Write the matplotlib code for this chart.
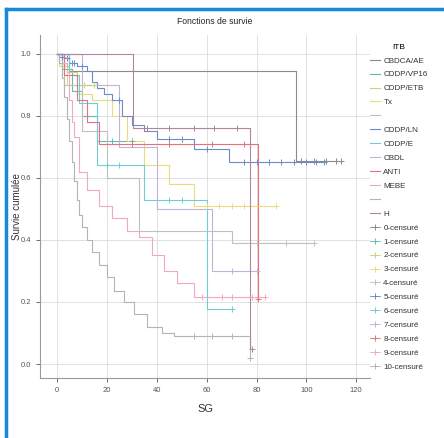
import numpy as np
import matplotlib
matplotlib.use("Agg")
import matplotlib.pyplot as plt
from matplotlib.lines import Line2D

plt.rcParams["font.family"] = ["Liberation Sans", "DejaVu Sans"]

# Treatment groups (legend order)
groups = ["CBDCA/AE", "CDDP/VP16", "CDDP/ETB", "Tx", "", "CDDP/LN",
          "CDDP/E", "CBDL", "ANTI", "MEBE", "", "H"]
colors = ["#8a8a8a", "#5fbcb2", "#cbd66e", "#ecdb7a", "#c0c0c0", "#6d8bcc",
          "#6fcdd8", "#c2b2d4", "#e8707c", "#f0aabd", "#b4b4b4", "#b0869c"]

# Event times (months) and survival after each event, per group
ev_t = [
    [5, 96],
    [2, 6, 10, 16],
    [2, 5, 8],
    [1, 4, 8, 14, 22, 28, 35, 45, 55],
    [3, 10, 20, 33, 70],
    [1, 3, 5, 8, 12, 14, 16, 19, 22, 26, 30, 35, 40, 55, 69],
    [5, 9, 16, 35, 60],
    [10, 25, 40, 62],
    [3, 8, 12, 17, 80.5],
    [2, 4, 5, 6, 7, 9, 12, 17, 22, 28, 33, 38, 43, 48, 55],
    [1, 2, 3, 4, 5, 6, 7, 8, 9, 10, 12, 14, 17, 20, 23, 27, 31, 36, 42, 47, 77.5],
    [30.5, 77.5],
]
ev_s = [
    [0.945, 0.655],
    [0.95, 0.88, 0.80, 0.72],
    [0.96, 0.94, 0.90],
    [0.96, 0.90, 0.87, 0.85, 0.80, 0.72, 0.64, 0.58, 0.51],
    [0.90, 0.75, 0.60, 0.43, 0.39],
    [0.99, 0.985, 0.97, 0.96, 0.945, 0.91, 0.89, 0.87, 0.85, 0.80, 0.77, 0.75,
     0.726, 0.694, 0.652],
    [0.93, 0.84, 0.64, 0.53, 0.177],
    [0.90, 0.70, 0.50, 0.30],
    [0.93, 0.85, 0.78, 0.71, 0.21],
    [0.97, 0.94, 0.85, 0.78, 0.73, 0.62, 0.56, 0.51, 0.47, 0.43, 0.41, 0.35,
     0.30, 0.26, 0.216],
    [0.97, 0.92, 0.86, 0.79, 0.72, 0.65, 0.59, 0.53, 0.48, 0.44, 0.40, 0.36,
     0.32, 0.28, 0.235, 0.20, 0.16, 0.12, 0.10, 0.09, 0.02],
    [0.76, 0.05],
]
# Censored observation times per group
cens_t = [
    [98, 103, 108, 112, 114],
    [22, 30],
    [11, 15],
    [60, 65, 70, 75, 80, 88],
    [80, 92, 103],
    [2, 4, 6, 7, 10, 25, 45, 50, 60, 75, 80, 85, 90, 95, 100, 104, 107],
    [20, 25, 45, 50, 70],
    [70, 80],
    [30, 45, 62, 75, 80.5],
    [58, 66, 70, 78, 83.5],
    [55, 62, 70, 77.5],
    [36, 45, 55, 63, 72, 78],
]

fig = plt.figure(figsize=(4.44, 4.38), dpi=100)
ax = fig.add_axes([40 / 444, 1 - 378 / 438, 330 / 444, 343 / 438])

for i in range(len(groups)):
    t = np.concatenate([[0.0], ev_t[i]])
    s = np.concatenate([[1.0], ev_s[i]])
    t_end = max(t[-1], max(cens_t[i]) if cens_t[i] else t[-1])
    tt = np.append(t, t_end)
    ss = np.append(s, s[-1])
    ax.step(tt, ss, where="post", color=colors[i], lw=0.8, zorder=3)
    ct = np.asarray(cens_t[i], dtype=float)
    idx = np.searchsorted(t, ct, side="right") - 1
    ax.plot(ct, s[idx], linestyle="none", marker="+", ms=4, mew=0.7,
            color=colors[i], zorder=4)

ax.set_xlim(-6.8, 125.5)
ax.set_ylim(-0.045, 1.06)
ax.set_xticks(np.arange(0, 121, 20))
ax.set_yticks(np.arange(0, 1.01, 0.2))
ax.set_yticklabels([f"{v:.1f}" for v in np.arange(0, 1.01, 0.2)])
ax.grid(True, color="#dcdcdc", lw=0.6, zorder=0)
for side in ("top", "right"):
    ax.spines[side].set_visible(False)
for side in ("left", "bottom"):
    ax.spines[side].set_color("#9a9a9a")
    ax.spines[side].set_linewidth(0.8)
ax.tick_params(labelsize=5.5, colors="#555555", length=3, width=0.6)

ax.set_xlabel("SG", fontsize=8, color="#333333")
ax.xaxis.set_label_coords(0.5, -0.075)
ax.set_ylabel("Survie cumulée", fontsize=7, color="#333333")
ax.yaxis.set_label_coords(-0.055, 0.5)
fig.text(215 / 444, 1 - 22 / 438, "Fonctions de survie", ha="center",
         va="center", fontsize=6.2, color="#222222")

handles, labels = [], []
for i, g in enumerate(groups):
    handles.append(Line2D([], [], color=colors[i], lw=0.8))
    labels.append(g)
for i in range(11):
    handles.append(Line2D([], [], color=colors[i], lw=0.6, marker="+",
                          ms=4, mew=0.7))
    labels.append(f"{i}-censuré")
leg = fig.legend(handles, labels, loc="upper left",
                 bbox_to_anchor=(368 / 444, 1 - 42 / 438), frameon=False,
                 title="ITB", fontsize=5.8, title_fontsize=6,
                 handlelength=1.3, handletextpad=0.4, labelspacing=0.78,
                 borderaxespad=0, borderpad=0.2)
for txt in leg.get_texts():
    txt.set_color("#333333")

# Blue page frame on the left and top edges
fig.add_artist(Line2D([6 / 444, 6 / 444], [0, 1 - 9 / 438],
                      transform=fig.transFigure, color="#1689d8", lw=2.5))
fig.add_artist(Line2D([6 / 444, 1], [1 - 9 / 438, 1 - 9 / 438],
                      transform=fig.transFigure, color="#1689d8", lw=2.5))

fig.savefig("out.png", dpi=100)
